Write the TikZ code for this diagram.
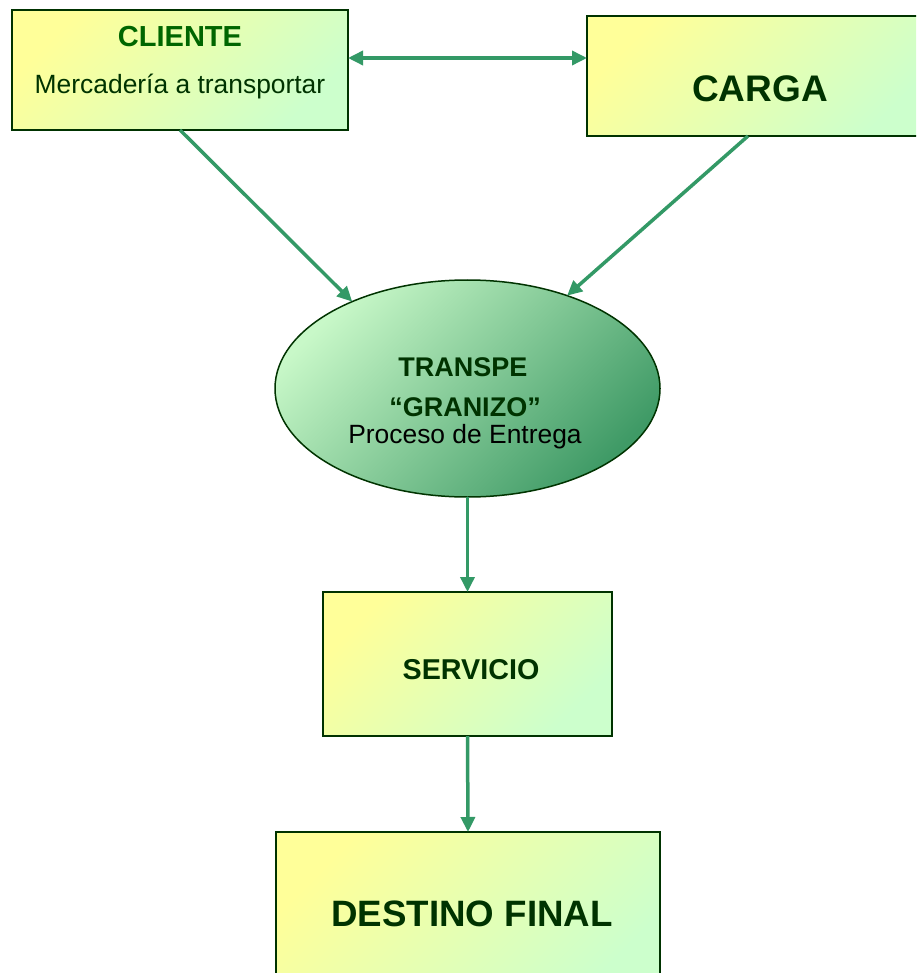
\documentclass[tikz,border=0pt]{standalone}
\usepackage{fontspec}
\setmainfont{Liberation Sans}
\usetikzlibrary{shapes.geometric,arrows.meta}
\definecolor{boxy}{HTML}{FFFF99}
\definecolor{boxg}{HTML}{CCFFCC}
\definecolor{edge}{HTML}{003300}
\definecolor{arr}{HTML}{339966}
\definecolor{ellg}{HTML}{C8F8C8}
\definecolor{elld}{HTML}{3F9A66}
\definecolor{titg}{HTML}{006600}
\tikzset{
  boxnode/.style={draw=edge, line width=2pt, rectangle, inner sep=0pt, outer sep=0pt,
    top color=boxy, bottom color=boxg, shading angle=45},
  ellnode/.style={draw=edge, line width=1.5pt, ellipse, inner sep=0pt, outer sep=0pt,
    top color=ellg, bottom color=elld, shading angle=45},
  conn/.style={draw=arr, line width=3.5pt, -{Triangle[length=15pt,width=14pt]}},
  bconn/.style={draw=arr, line width=3.5pt, {Triangle[length=15pt,width=14pt]}-{Triangle[length=15pt,width=14pt]}},
  txt/.style={inner sep=0pt, anchor=center},
}
\begin{document}
\begin{tikzpicture}[x=1pt,y=-1pt]
\useasboundingbox (0,0) rectangle (916,973);
\clip (0,0) rectangle (916,973);
% boxes
\node[boxnode, minimum width=336pt, minimum height=120pt] (cliente) at (180,70) {};
\node[boxnode, minimum width=346pt, minimum height=120pt] (carga) at (760,76) {};
\node[ellnode, minimum width=385pt, minimum height=217pt] (proc) at (467.5,388.5) {};
\node[boxnode, minimum width=289pt, minimum height=144pt] (servicio) at (467.5,664) {};
\node[boxnode, minimum width=384pt, minimum height=164pt] (destino) at (468,914) {};
% texts
\node[txt, text=titg, font=\fontsize{29}{32}\selectfont\bfseries] (tcliente) at (180,37) {CLIENTE};
\node[txt, text=edge, font=\fontsize{26.4}{30}\selectfont] (tmerc) at (180,87) {Mercadería a transportar};
\node[txt, text=edge, font=\fontsize{37}{40}\selectfont\bfseries] (tcarga) at (760,89) {CARGA};
\node[txt, text=edge, font=\fontsize{27}{30}\selectfont\bfseries] (ttrans) at (463,367) {TRANSPE};
\node[txt, text=edge, font=\fontsize{27}{30}\selectfont\bfseries] (tgran) at (465,407) {“GRANIZO”};
\node[txt, text=black, font=\fontsize{26.4}{30}\selectfont] (tproc) at (465,437) {Proceso de Entrega};
\node[txt, text=edge, font=\fontsize{28.7}{32}\selectfont\bfseries] (tserv) at (471,670) {SERVICIO};
\node[txt, text=edge, font=\fontsize{36.7}{40}\selectfont\bfseries] (tdest) at (472,914) {DESTINO FINAL};
% connectors
\draw[bconn] ([yshift=12pt]cliente.east) -- ([yshift=18pt]carga.west);
\draw[conn] (cliente.south) -- (proc.143);
\draw[conn] ([xshift=-12pt]carga.south) -- (proc.43);
\draw[conn] (proc.south) -- (servicio.north);
\draw[conn] (servicio.south) -- (destino.north);
\end{tikzpicture}
\end{document}
